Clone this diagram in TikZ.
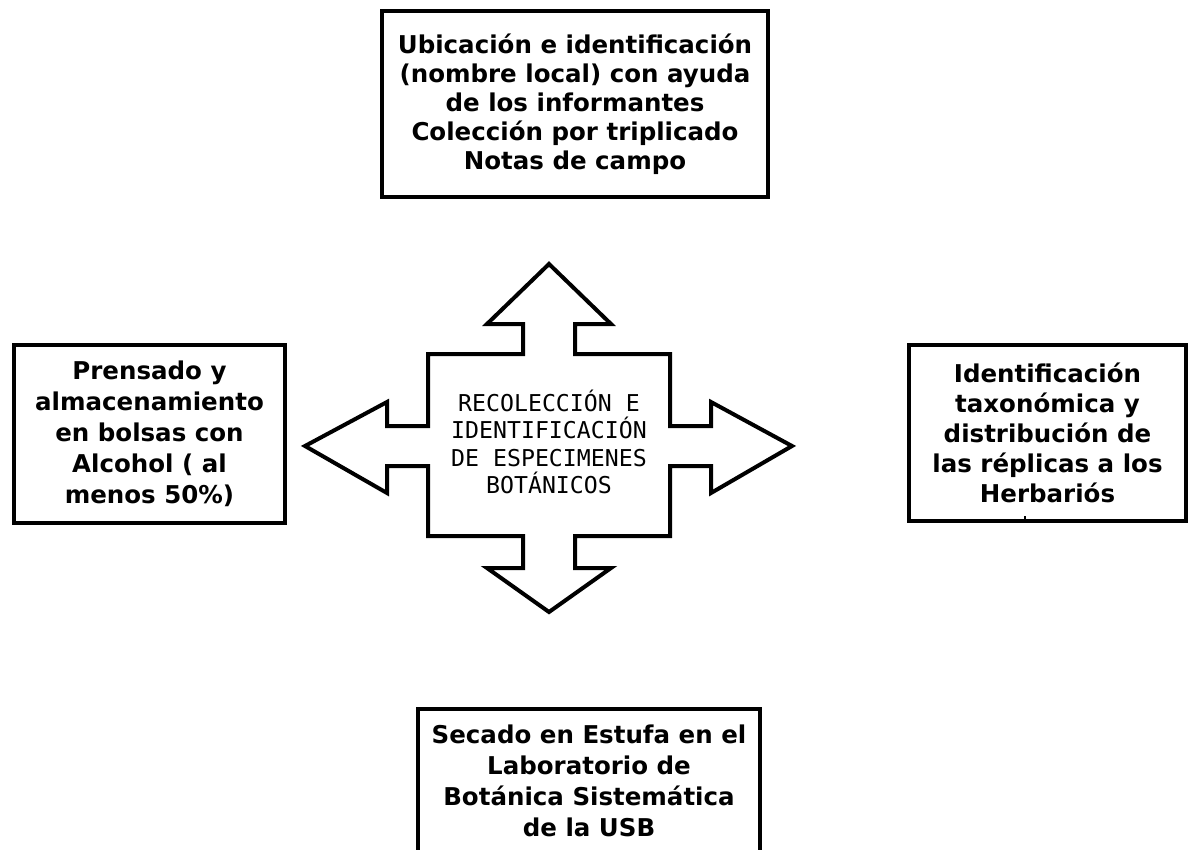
\documentclass[tikz,border=0pt]{standalone}
\usepackage{fontspec}
\newfontfamily\boxfont{DejaVu Sans}
\newfontfamily\hubfont{DejaVu Sans Mono}
\begin{document}
\begin{tikzpicture}[x=1pt,y=-1pt,
  stagebox/.style={draw=black, line width=4pt, fill=white, align=center,
    inner sep=0pt, font=\boxfont\bfseries\fontsize{24.5}{30}\selectfont},
  hubtext/.style={align=center, inner sep=0pt,
    font=\hubfont\fontsize{23.2}{27.5}\selectfont},
  hubshape/.style={draw=black, line width=4pt, line join=miter, fill=white}]
\useasboundingbox (0,0) rectangle (1188,849);
\fill[white] (0,0) rectangle (1188,849);

% four-way arrow in the middle
\draw[hubshape]
  (549,264) -- (611,324) -- (575,324) -- (575,354) -- (670,354) -- (670,426)
  -- (711,426) -- (711,402) -- (792,446) -- (711,493) -- (711,466) -- (670,466)
  -- (670,536) -- (575,536) -- (575,568) -- (611,568) -- (549,612) -- (487,568)
  -- (523,568) -- (523,536) -- (428,536) -- (428,466) -- (387,466) -- (387,493)
  -- (305,446) -- (387,402) -- (387,426) -- (428,426) -- (428,354) -- (523,354)
  -- (523,324) -- (487,324) -- cycle;
\node[hubtext] (hub) at (549,442)
  {RECOLECCIÓN E\\IDENTIFICACIÓN\\DE ESPECIMENES\\BOTÁNICOS};

% the four stages
\node[stagebox, minimum width=386pt, minimum height=186pt,
  font=\boxfont\bfseries\fontsize{24.5}{29}\selectfont] (top) at (575,104)
  {Ubicación e identificación\\(nombre local) con ayuda\\de los informantes\\Colección por triplicado\\Notas de campo};
\node[stagebox, minimum width=271pt, minimum height=178pt,
  font=\boxfont\bfseries\fontsize{24.5}{31}\selectfont] (left) at (149.5,434)
  {Prensado y\\almacenamiento\\en bolsas con\\Alcohol ( al\\menos 50\%)};
\node[stagebox, minimum width=277pt, minimum height=176pt] (right) at (1047.5,433)
  {Identificación\\taxonómica y\\distribución de\\las réplicas a los\\Herbariós};
\node[stagebox, minimum width=342pt, minimum height=144pt,
  font=\boxfont\bfseries\fontsize{24.5}{31}\selectfont] (bottom) at (589,781)
  {Secado en Estufa en el\\Laboratorio de\\Botánica Sistemática\\de la USB};

% small stray tick at the foot of the right box
\draw[line width=1.2pt] (1025,516) -- (1025,521);
\end{tikzpicture}
\end{document}
